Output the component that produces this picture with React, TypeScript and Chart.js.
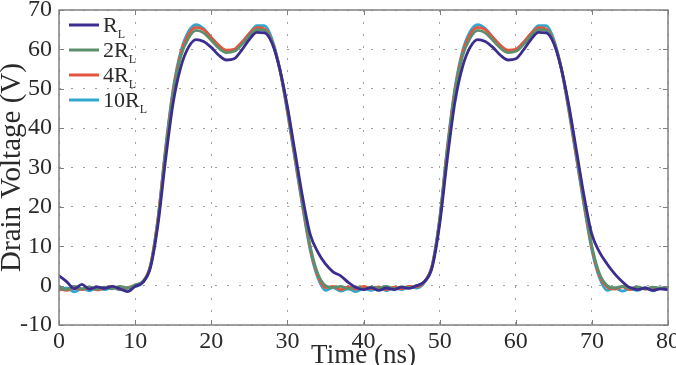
import React, { useEffect, useRef } from "react";
import { Chart, registerables } from "chart.js";

Chart.register(...registerables);

const TIME = [
  0, 1, 2, 3, 4, 5, 6, 7, 8, 9, 10, 11, 12, 13, 14, 15, 16, 17, 18, 19, 20,
  21, 22, 23, 24, 25, 26, 27, 28, 29, 30, 31, 32, 33, 34, 35, 36, 37, 38, 39, 40,
  41, 42, 43, 44, 45, 46, 47, 48, 49, 50, 51, 52, 53, 54, 55, 56, 57, 58, 59, 60,
  61, 62, 63, 64, 65, 66, 67, 68, 69, 70, 71, 72, 73, 74, 75, 76, 77, 78, 79, 80,
];

const SERIES_LABELS = ["R_L", "2R_L", "4R_L", "10R_L"];
const SERIES_COLORS = ["#3b2d8e", "#5e8f6c", "#e4553f", "#33a6cc"];

const V_1RL = [
  2.5, 1.0, -0.8, 0.3, -0.9, -0.3, -0.7, -0.2, -0.8, -1.5, -0.2,
  0.8, 4.5, 15.5, 32, 46.5, 55.5, 60.5, 62.5, 62, 60.5,
  58.5, 57.3, 57.6, 59.8, 62.5, 64.3, 64.2, 61.5, 55, 45.5,
  34, 22.5, 13, 8.5, 5.5, 3.5, 2.5, 0.8, -0.5, -1.0,
  -0.5, -1.2, -0.6, -1.0, -0.4, -0.7, 0.0, 1.0, 4.5, 15.5,
  32, 46.5, 55.5, 60.5, 62.5, 62, 60.5, 58.5, 57.3, 57.6,
  59.8, 62.5, 64.3, 64.2, 61.5, 55, 45.5, 34, 22.5, 13,
  8.5, 5.5, 3, 1.0, -0.5, -1.0, -0.6, -1.2, -0.8, -1.0,
];

const V_2RL = [
  -0.5, -1.0, -0.2, -0.8, -0.3, -0.9, -0.4, -0.8, -0.2, -0.6, 0.2,
  1.0, 4.8, 16.5, 34, 49, 58.2, 62.8, 64.8, 64.2, 62.3,
  60.3, 59.2, 59.5, 61.2, 63.5, 65, 64.8, 61.8, 55, 45,
  33, 21, 10, 3, 0, -0.5, -0.2, -0.8, -0.3, -0.9,
  -0.4, -0.6, -0.2, -0.8, -0.3, -0.5, 0.0, 1.0, 4.8, 16.5,
  34, 49, 58.2, 62.8, 64.8, 64.2, 62.3, 60.3, 59.2, 59.5,
  61.2, 63.5, 65, 64.8, 61.8, 55, 45, 33, 21, 10,
  3, 0, -0.6, -0.2, -0.7, -0.3, -0.8, -0.4, -0.6, -0.5,
];

const V_4RL = [
  -0.8, -1.2, -0.5, -1.0, -0.4, -1.1, -0.6, -0.2, -0.9, -0.5, 0.0,
  1.0, 5, 17, 34.5, 49.5, 59, 63.8, 65.6, 65, 63,
  61, 59.8, 60, 61.8, 64, 65.5, 65.2, 62, 55, 44.5,
  32.5, 20.5, 9.5, 2.5, -0.5, -0.2, -1.0, -0.3, -0.9, -0.2,
  -0.8, -0.3, -1.0, -0.4, -0.8, -0.2, -0.3, 1.0, 5, 16.5,
  34.5, 49.5, 59, 63.8, 65.6, 65, 63, 61, 59.8, 60,
  61.8, 64, 65.5, 65.2, 62, 55, 44.5, 32.5, 20.5, 9.5,
  2.5, -0.4, -0.9, -0.3, -1.0, -0.4, -0.9, -0.5, -0.8, -0.6,
];

const V_10RL = [
  -1.2, -0.6, -1.6, -0.8, -1.3, -0.6, -1.0, -0.5, -1.1, -0.7, -0.3,
  0.8, 5, 17, 35, 50, 59.5, 64.5, 66.3, 65.3, 63,
  60.8, 59.5, 59.8, 61.5, 64, 66, 66, 62.5, 55, 44,
  32, 20, 9, 2, -1.2, -0.5, -1.4, -0.8, -1.5, -0.7,
  -1.2, -0.5, -1.3, -0.6, -1.0, -0.3, -0.6, 0.8, 5, 17,
  35, 50, 59.5, 64.5, 66.3, 65.3, 63, 60.8, 59.5, 59.8,
  61.5, 64, 66, 66, 62.5, 55, 44, 32, 20, 9,
  2, -1.2, -0.6, -1.4, -0.8, -1.2, -0.5, -1.3, -0.7, -1.0,
];

const SERIES_VALUES = [V_1RL, V_2RL, V_4RL, V_10RL];

const X_TICKS = [0, 10, 20, 30, 40, 50, 60, 70, 80];
const Y_TICKS = [-10, 0, 10, 20, 30, 40, 50, 60, 70];
const X_TITLE = "Time (ns)";
const Y_TITLE = "Drain Voltage (V)";

const FONT_FAMILY = "'Liberation Serif', 'DejaVu Serif', serif";
const TEXT_COLOR = "#2a2a2a";

const framePlugin = {
  id: "frame",
  afterDatasetsDraw(chart: any) {
    const { ctx, chartArea: a, scales } = chart;
    ctx.save();
    ctx.strokeStyle = "#808080";
    ctx.lineWidth = 1;
    const tick = 5;
    ctx.beginPath();
    X_TICKS.forEach((v) => {
      const x = Math.round(scales.x.getPixelForValue(v)) + 0.5;
      ctx.moveTo(x, a.bottom);
      ctx.lineTo(x, a.bottom - tick);
      ctx.moveTo(x, a.top);
      ctx.lineTo(x, a.top + tick);
    });
    Y_TICKS.forEach((v) => {
      const y = Math.round(scales.y.getPixelForValue(v)) + 0.5;
      ctx.moveTo(a.left, y);
      ctx.lineTo(a.left + tick, y);
      ctx.moveTo(a.right, y);
      ctx.lineTo(a.right - tick, y);
    });
    ctx.stroke();
    ctx.lineWidth = 1.5;
    ctx.strokeRect(a.left, a.top, a.right - a.left, a.bottom - a.top);
    ctx.restore();
  },
};

const legendPlugin = {
  id: "subLegend",
  afterDraw(chart: any) {
    const { ctx, chartArea: a } = chart;
    ctx.save();
    const x0 = a.left + 10;
    const swatch = 30;
    const rowH = 25;
    chart.data.datasets.forEach((ds: any, i: number) => {
      const y = a.top + 15 + i * rowH;
      ctx.strokeStyle = ds.borderColor;
      ctx.lineWidth = 3;
      ctx.beginPath();
      ctx.moveTo(x0, y);
      ctx.lineTo(x0 + swatch, y);
      ctx.stroke();
      const [main, sub] = String(ds.label).split("_");
      ctx.fillStyle = TEXT_COLOR;
      ctx.textAlign = "left";
      ctx.textBaseline = "alphabetic";
      ctx.font = `22px ${FONT_FAMILY}`;
      const tx = x0 + swatch + 4;
      ctx.fillText(main, tx, y + 7);
      const w = ctx.measureText(main).width;
      if (sub) {
        ctx.font = `12px ${FONT_FAMILY}`;
        ctx.fillText(sub, tx + w, y + 13);
      }
    });
    ctx.restore();
  },
};

export default function App() {
  const canvasRef = useRef<HTMLCanvasElement | null>(null);

  useEffect(() => {
    document.body.style.margin = "0";
    const canvas = canvasRef.current;
    if (!canvas) return;
    const chart = new Chart(canvas, {
      type: "line",
      data: {
        labels: TIME,
        datasets: SERIES_LABELS.map((label, i) => ({
          label,
          data: TIME.map((t, j) => ({ x: t, y: SERIES_VALUES[i][j] })),
          borderColor: SERIES_COLORS[i],
          backgroundColor: SERIES_COLORS[i],
          borderWidth: 2.8,
          pointRadius: 0,
          cubicInterpolationMode: "monotone" as const,
          fill: false,
        })),
      },
      options: {
        responsive: false,
        animation: false,
        events: [],
        layout: { padding: { left: 0, right: 8, top: 10, bottom: 0 } },
        plugins: {
          legend: { display: false },
          tooltip: { enabled: false },
          title: { display: false },
        },
        scales: {
          x: {
            type: "linear",
            min: 0,
            max: 80,
            afterFit: (s: any) => {
              s.height = 40;
              s.paddingLeft = 0;
              s.paddingRight = 0;
            },
            afterBuildTicks: (s: any) => {
              s.ticks = X_TICKS.map((v) => ({ value: v }));
            },
            ticks: {
              color: TEXT_COLOR,
              font: { family: FONT_FAMILY, size: 24 },
              padding: 2,
              maxRotation: 0,
              autoSkip: false,
            },
            grid: {
              color: "#a0a0a0",
              lineWidth: 1,
              drawTicks: false,
            },
            border: { display: false, dash: [2, 10] },
            title: {
              display: true,
              text: X_TITLE,
              color: TEXT_COLOR,
              font: { family: FONT_FAMILY, size: 27 },
              padding: { top: 0, bottom: -7 },
            },
          },
          y: {
            type: "linear",
            min: -10,
            max: 70,
            afterFit: (s: any) => {
              s.width = 59;
              s.paddingTop = 0;
              s.paddingBottom = 0;
            },
            afterBuildTicks: (s: any) => {
              s.ticks = Y_TICKS.map((v) => ({ value: v }));
            },
            ticks: {
              color: TEXT_COLOR,
              font: { family: FONT_FAMILY, size: 24 },
              padding: 7,
              autoSkip: false,
            },
            grid: {
              color: "#a0a0a0",
              lineWidth: 1,
              drawTicks: false,
            },
            border: { display: false, dash: [2, 10] },
            title: {
              display: true,
              text: Y_TITLE,
              color: TEXT_COLOR,
              font: { family: FONT_FAMILY, size: 29 },
              padding: { top: -5, bottom: 0 },
            },
          },
        },
      },
      plugins: [framePlugin, legendPlugin],
    });
    return () => chart.destroy();
  }, []);

  return (
    <div style={{ width: 676, height: 365, background: "#fff" }}>
      <canvas ref={canvasRef} width={676} height={365} />
    </div>
  );
}
